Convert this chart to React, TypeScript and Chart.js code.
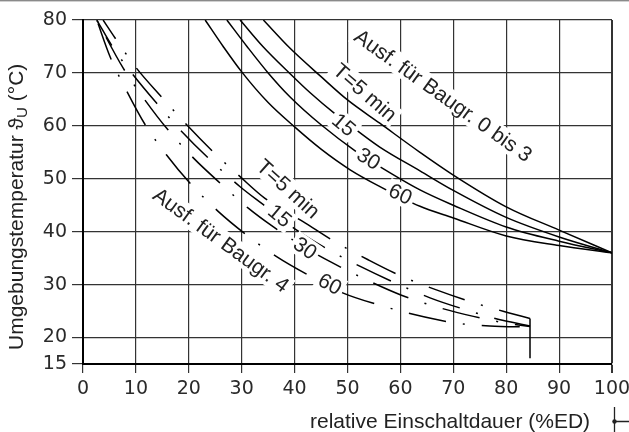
import { useEffect, useRef } from "react";
import { Chart, registerables } from "chart.js";

Chart.register(...registerables);

// Axis ticks
const xTickValues = [0, 10, 20, 30, 40, 50, 60, 70, 80, 90, 100];
const yTickValues = [15, 20, 30, 40, 50, 60, 70, 80];

// Ausf. für Baugr. 0 bis 3 (solid curves): [relative ED %, ambient temperature °C]
const baugr03T5 = [[34.1, 80], [39.1, 74.7], [45, 69.3], [50, 64.9], [56.1, 60.5], [63.7, 55.0], [70, 50.7], [80, 44.7], [90, 40.3], [100, 36]];
const baugr03T15 = [[29.7, 80], [34, 75.0], [39.1, 69.9], [43, 66.2], [47.6, 62.3], [51.7, 59.2], [56.1, 56.0], [63.7, 51.5], [70, 47.8], [80, 42.7], [90, 39.0], [100, 36]];
const baugr03T30 = [[27.2, 80], [31, 75.0], [35, 70.0], [39.1, 65.5], [45, 60.2], [51.7, 55.1], [56.1, 52.3], [63.7, 47.9], [70, 45.0], [80, 40.9], [90, 38.2], [100, 36]];
const baugr03T60 = [[23.1, 80], [26.5, 75], [30, 70.2], [35, 64.4], [40, 59.8], [45, 55.6], [50.5, 51.7], [56, 48.6], [63.7, 44.8], [70, 42.6], [80, 39.2], [90, 37.4], [100, 36]];

// Ausf. für Baugr. 4 (dash-dot curves)
const baugr4T5 = [[3.8, 80], [6, 76.7], [10.1, 70.9], [14.9, 65.4], [19.6, 60.2], [24.6, 55.1], [29.7, 50.4], [34.4, 46.3], [41.6, 41.9], [47.6, 38.1], [53.9, 34.7], [60.2, 31.6], [66.8, 29.0], [73.8, 26.6], [80.4, 24.7], [84.5, 23.6]];
const baugr4T15 = [[2.6, 80], [5.8, 74.6], [9.5, 69.6], [13.9, 64.3], [18.7, 58.9], [23.7, 53.9], [29.7, 48.5], [34.1, 45.1], [40.4, 40.3], [46.4, 36.6], [52.7, 33.3], [59.3, 30.2], [65.6, 27.5], [72.5, 25.2], [79.5, 23.2], [84.5, 22.2]];
const baugr4T30 = [[2.6, 80], [7.6, 70.9], [11.7, 64.9], [16.1, 59.2], [20.9, 53.9], [25.9, 49.2], [31.3, 44.4], [36, 40.9], [42, 37.0], [47, 34.2], [53.6, 30.9], [60.2, 28.0], [66.8, 25.8], [73.8, 24.0], [80.1, 22.7], [84.5, 22.1]];
const baugr4T60 = [[2.6, 80], [5.1, 73.1], [8.3, 66.5], [11.7, 60.3], [15.8, 54.5], [20.2, 49.2], [25.6, 43.8], [30.9, 39.4], [36.6, 35.3], [42.6, 31.8], [49.2, 28.4], [55.8, 26.2], [62.8, 24.3], [70, 22.8], [76.9, 22.2], [84.5, 22.0]];
const baugr4Limit = [[84.5, 23.6], [84.5, 16.1]];

// In-plot annotations (data coordinates) with rotation in degrees
const curveLabels = [
  { text: "Ausf. für Baugr. 0 bis 3", x: 68.1, y: 65.7, angle: 35.5 },
  { text: "T=5 min", x: 53.3, y: 66.3, angle: 41 },
  { text: "15", x: 49.3, y: 60.2, angle: 40 },
  { text: "30", x: 54.0, y: 53.8, angle: 32 },
  { text: "60", x: 60.0, y: 47.1, angle: 25 },
  { text: "Ausf. für Baugr. 4", x: 26.1, y: 38.4, angle: 36 },
  { text: "T=5 min", x: 38.8, y: 48.1, angle: 42 },
  { text: "15", x: 37.2, y: 43.0, angle: 40 },
  { text: "30", x: 42.0, y: 36.9, angle: 35 },
  { text: "60", x: 46.7, y: 30.1, angle: 28 },
];

const xTitle = "relative Einschaltdauer (%ED)";
const yTitleMain = "Umgebungstemperatur ϑ";
const yTitleSub = "U";
const yTitleEnd = " (°C)";

const LABEL_FONT = '21px "Liberation Sans", "DejaVu Sans", Arial, sans-serif';
const SUB_FONT = '15px "Liberation Sans", "DejaVu Sans", Arial, sans-serif';
const TEXT_COLOR = "#222";

const toPts = (arr: number[][]) => arr.map(([x, y]) => ({ x, y }));

const decorPlugin = {
  id: "decor",
  beforeDraw(chart: any) {
    const ctx = chart.ctx;
    ctx.save();
    ctx.fillStyle = "#fff";
    ctx.fillRect(0, 0, chart.width, chart.height);
    ctx.fillStyle = "#8a8a8a";
    ctx.fillRect(0, 0, chart.width, 1.4);
    ctx.restore();
  },
  afterDatasetsDraw(chart: any) {
    const ctx = chart.ctx;
    const xs = chart.scales.x;
    const ys = chart.scales.y;
    curveLabels.forEach((lbl) => {
      const px = xs.getPixelForValue(lbl.x);
      const py = ys.getPixelForValue(lbl.y);
      ctx.save();
      ctx.translate(px, py);
      ctx.rotate((lbl.angle * Math.PI) / 180);
      ctx.font = LABEL_FONT;
      const w = ctx.measureText(lbl.text).width;
      ctx.fillStyle = "#fff";
      ctx.fillRect(-w / 2 - 3, -11, w + 6, 22);
      ctx.fillStyle = TEXT_COLOR;
      ctx.textAlign = "center";
      ctx.textBaseline = "middle";
      ctx.fillText(lbl.text, 0, 1);
      ctx.restore();
    });
  },
  afterDraw(chart: any) {
    const ctx = chart.ctx;
    ctx.save();
    // x axis title
    ctx.font = LABEL_FONT;
    ctx.fillStyle = TEXT_COLOR;
    ctx.textAlign = "left";
    ctx.textBaseline = "alphabetic";
    ctx.fillText(xTitle, 310, 427.5);
    // y axis title (rotated, with subscript)
    ctx.translate(23, 350);
    ctx.rotate(-Math.PI / 2);
    ctx.font = LABEL_FONT;
    let cx = 0;
    ctx.fillText(yTitleMain, cx, 0);
    cx += ctx.measureText(yTitleMain).width;
    ctx.font = SUB_FONT;
    ctx.fillText(yTitleSub, cx, 4);
    cx += ctx.measureText(yTitleSub).width;
    ctx.font = LABEL_FONT;
    ctx.fillText(yTitleEnd, cx, 0);
    ctx.restore();
    // small reference mark at bottom right
    ctx.save();
    ctx.strokeStyle = "#222";
    ctx.lineWidth = 1.3;
    ctx.beginPath();
    ctx.moveTo(614.5, 407);
    ctx.lineTo(614.5, 432);
    ctx.moveTo(614.5, 421.5);
    ctx.lineTo(629, 421.5);
    ctx.stroke();
    ctx.fillStyle = "#222";
    ctx.beginPath();
    ctx.arc(614.5, 421.5, 2.2, 0, Math.PI * 2);
    ctx.fill();
    ctx.restore();
  },
};

const DASH = [38, 17, 2, 17];

export default function App() {
  const canvasRef = useRef<HTMLCanvasElement | null>(null);

  useEffect(() => {
    if (!canvasRef.current) return;
    const solid = (data: number[][]) => ({
      data: toPts(data),
      borderColor: "#000",
      borderWidth: 1.5,
      pointRadius: 0,
      fill: false,
      cubicInterpolationMode: "monotone" as const,
    });
    const dashed = (data: number[][], offset: number) => ({
      data: toPts(data),
      borderColor: "#000",
      borderWidth: 1.5,
      pointRadius: 0,
      fill: false,
      borderDash: DASH,
      borderDashOffset: offset,
      cubicInterpolationMode: "monotone" as const,
    });

    const chart = new Chart(canvasRef.current, {
      type: "line",
      data: {
        datasets: [
          solid(baugr03T5),
          solid(baugr03T15),
          solid(baugr03T30),
          solid(baugr03T60),
          dashed(baugr4T5, 15.5),
          dashed(baugr4T15, 8.6),
          dashed(baugr4T30, 54.4),
          dashed(baugr4T60, 70.1),
          {
            data: toPts(baugr4Limit),
            borderColor: "#000",
            borderWidth: 1.5,
            pointRadius: 0,
            fill: false,
            tension: 0,
          },
        ] as any,
      },
      options: {
        animation: false,
        responsive: false,
        maintainAspectRatio: false,
        layout: { padding: { top: 20, right: 17, left: 0, bottom: 0 } },
        plugins: { legend: { display: false }, tooltip: { enabled: false } },
        scales: {
          x: {
            type: "linear",
            min: 0,
            max: 100,
            afterBuildTicks: (scale: any) => {
              scale.ticks = xTickValues.map((v) => ({ value: v }));
            },
            afterFit: (scale: any) => {
              scale.height = 68;
              scale.paddingLeft = 0;
              scale.paddingRight = 0;
            },
            ticks: {
              autoSkip: false,
              maxRotation: 0,
              padding: 5,
              color: "#2a2a2a",
              font: { family: '"DejaVu Sans", sans-serif', size: 19 },
              callback: (v: any) => String(v),
            },
            grid: {
              color: "#333",
              lineWidth: (c: any) => (c.tick && c.tick.value === 100 ? 2 : 1.2),
              tickLength: 9,
              drawTicks: true,
            },
            border: { display: true, color: "#000", width: 2 },
          },
          y: {
            type: "linear",
            min: 15,
            max: 80,
            afterBuildTicks: (scale: any) => {
              scale.ticks = yTickValues.map((v) => ({ value: v }));
            },
            afterFit: (scale: any) => {
              scale.width = 83;
              scale.paddingTop = 0;
              scale.paddingBottom = 0;
            },
            ticks: {
              autoSkip: false,
              padding: 5,
              color: "#2a2a2a",
              font: { family: '"DejaVu Sans", sans-serif', size: 19 },
              callback: (v: any) => String(v),
            },
            grid: {
              color: "#333",
              lineWidth: 1.2,
              tickLength: 11,
              drawTicks: true,
            },
            border: { display: true, color: "#000", width: 2 },
          },
        },
      },
      plugins: [decorPlugin],
    } as any);

    return () => chart.destroy();
  }, []);

  return (
    <div style={{ position: "fixed", left: 0, top: 0, width: 629, height: 432, background: "#fff" }}>
      <canvas ref={canvasRef} width={629} height={432} style={{ display: "block" }} />
    </div>
  );
}
